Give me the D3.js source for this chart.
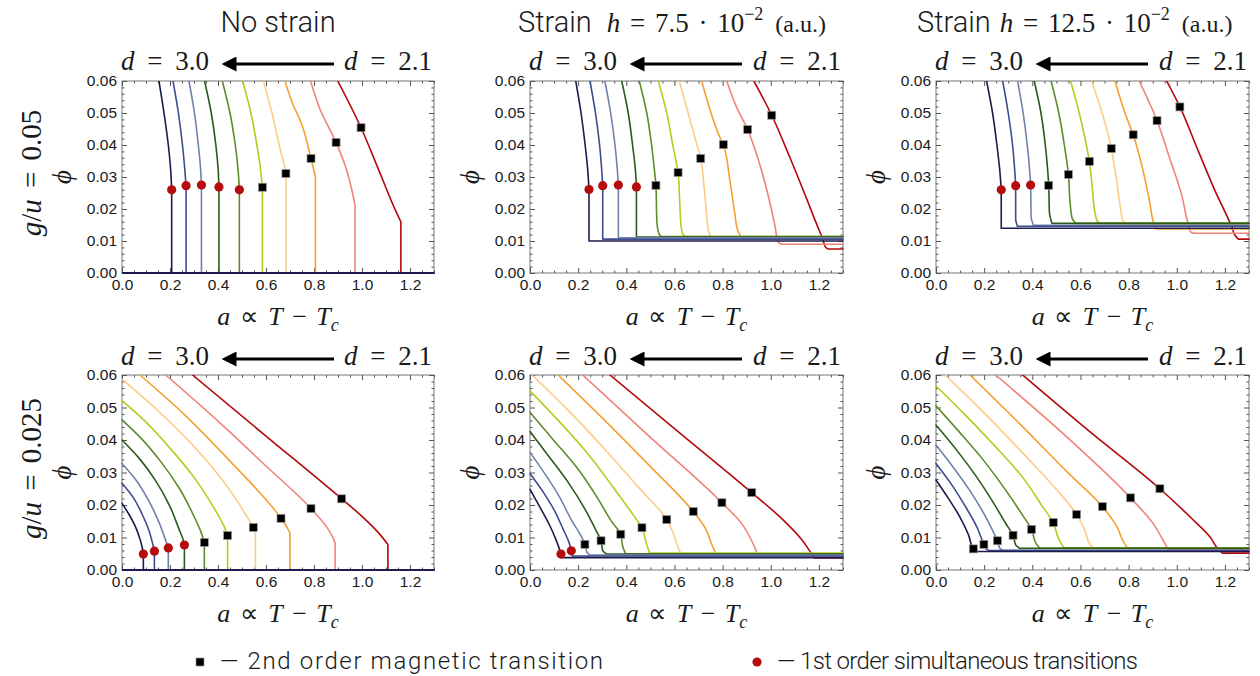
<!DOCTYPE html>
<html>
<head>
<meta charset="utf-8">
<script src="https://cdn.jsdelivr.net/npm/d3@7"></script>
<style>
  body { margin: 0; background: #fff; }
  svg text { fill: #1a1a1a; }
</style>
</head>
<body>
<svg id="chart" width="1260" height="676"></svg>
<script>
"use strict";
// curves are ordered d = 3.0 ... d = 2.1, each point is [a, phi]
const dValues = [3.0, 2.9, 2.8, 2.7, 2.6, 2.5, 2.4, 2.3, 2.2, 2.1];
const curveColors = ["#1c1a4e", "#3d4c8e", "#7181ad", "#2c5a17", "#5e8c2a",
    "#b4cc1e", "#fdcb84", "#f4a131", "#f1837a", "#b3080c"];
const xTickValues = [0, 0.2, 0.4, 0.6, 0.8, 1.0, 1.2];
const yTickValues = [0, 0.01, 0.02, 0.03, 0.04, 0.05, 0.06];
const columnTitles = ["No strain", "Strain", "Strain"];
const strainValues = [null, "7.5", "12.5"];
const couplingValues = ["0.05", "0.025"];
// the phi = 0 branch that runs along the whole axis without strain
const zeroBranch = [[0, 0], [1.3, 0]];

// g/u = 0.05, no strain
const noStrainG05 = [
    [[0.154,0.06],[0.175,0.05],[0.193,0.04],[0.203,0.032],[0.207,0.026],[0.207,0],[1.3,0]],
    [[0.2125,0.06],[0.235,0.05],[0.252,0.04],[0.262,0.032],[0.267,0.0273],[0.267,0],[1.3,0]],
    [[0.279,0.06],[0.302,0.05],[0.318,0.04],[0.327,0.033],[0.331,0.0275],[0.331,0],[1.3,0]],
    [[0.344,0.06],[0.372,0.05],[0.391,0.04],[0.400,0.033],[0.404,0.0269],[0.404,0],[1.3,0]],
    [[0.418,0.06],[0.450,0.05],[0.472,0.04],[0.484,0.032],[0.489,0.026],[0.489,0],[1.3,0]],
    [[0.503,0.06],[0.537,0.05],[0.562,0.04],[0.578,0.032],[0.585,0.0268],[0.585,0],[1.3,0]],
    [[0.589,0.06],[0.625,0.05],[0.655,0.04],[0.675,0.034],[0.683,0.0311],[0.683,0],[1.3,0]],
    [[0.679,0.06],[0.716,0.052],[0.742,0.0478],[0.7875,0.0358],[0.806,0.0301],[0.806,0],[1.3,0]],
    [[0.786,0.06],[0.826,0.051],[0.892,0.0408],[0.930,0.0335],[0.956,0.0265],[0.971,0.0213],[0.971,0],[1.3,0]],
    [[0.899,0.06],[0.996,0.0454],[1.075,0.0312],[1.14,0.0195],[1.162,0.016],[1.162,0],[1.3,0]]
];
const noStrainG05Circles = [[0.207,0.026],[0.267,0.0273],[0.331,0.0275],[0.404,0.0269],[0.489,0.026]];
const noStrainG05Squares = [[0.585,0.0268],[0.683,0.0311],[0.7875,0.0358],[0.892,0.0408],[0.996,0.0454]];

// g/u = 0.05, strain h = 7.5e-2
const strain75G05 = [
    [[0.190,0.06],[0.212,0.05],[0.229,0.04],[0.240,0.032],[0.245,0.0261],[0.245,0.010],[1.3,0.010]],
    [[0.249,0.06],[0.272,0.05],[0.289,0.04],[0.298,0.032],[0.302,0.0273],[0.302,0.0106],[1.3,0.0106]],
    [[0.311,0.06],[0.335,0.05],[0.353,0.04],[0.363,0.032],[0.367,0.0275],[0.367,0.011],[1.3,0.011]],
    [[0.381,0.06],[0.408,0.05],[0.426,0.04],[0.438,0.032],[0.442,0.0269],[0.442,0.0112],[1.3,0.0112]],
    [[0.454,0.06],[0.485,0.05],[0.505,0.04],[0.517,0.032],[0.523,0.0274],[0.527,0.016],[0.534,0.0125],[0.545,0.0114],[1.3,0.0114]],
    [[0.533,0.06],[0.568,0.05],[0.593,0.04],[0.609,0.034],[0.615,0.0314],[0.622,0.022],[0.627,0.015],[0.634,0.0122],[0.645,0.0114],[1.3,0.0114]],
    [[0.620,0.06],[0.657,0.05],[0.686,0.042],[0.709,0.0358],[0.723,0.027],[0.734,0.018],[0.742,0.0128],[0.755,0.0111],[1.3,0.0111]],
    [[0.713,0.06],[0.752,0.05],[0.788,0.0425],[0.803,0.0401],[0.830,0.029],[0.850,0.019],[0.862,0.0135],[0.880,0.0108],[1.3,0.0108]],
    [[0.817,0.06],[0.857,0.052],[0.904,0.0448],[0.950,0.035],[0.990,0.024],[1.018,0.0145],[1.030,0.0098],[1.042,0.009],[1.3,0.009]],
    [[0.930,0.06],[1.004,0.0493],[1.080,0.036],[1.150,0.023],[1.200,0.0135],[1.215,0.0108],[1.228,0.008],[1.238,0.0075],[1.3,0.0075]]
];
const strain75G05Circles = [[0.245,0.0261],[0.302,0.0273],[0.367,0.0275],[0.442,0.0269]];
const strain75G05Squares = [[0.523,0.0274],[0.615,0.0314],[0.709,0.0358],[0.803,0.0401],[0.904,0.0448],[1.004,0.0493]];

// g/u = 0.05, strain h = 12.5e-2
const strain125G05 = [
    [[0.210,0.06],[0.235,0.05],[0.253,0.04],[0.265,0.032],[0.271,0.026],[0.271,0.014],[1.3,0.014]],
    [[0.277,0.06],[0.300,0.05],[0.318,0.04],[0.327,0.032],[0.331,0.0273],[0.331,0.0165],[0.338,0.0146],[1.3,0.0146]],
    [[0.339,0.06],[0.362,0.05],[0.379,0.04],[0.389,0.032],[0.393,0.0275],[0.395,0.0175],[0.405,0.0149],[1.3,0.0149]],
    [[0.408,0.06],[0.436,0.05],[0.454,0.04],[0.464,0.032],[0.468,0.0274],[0.471,0.019],[0.482,0.0155],[1.3,0.0155]],
    [[0.478,0.06],[0.510,0.05],[0.533,0.04],[0.550,0.0308],[0.557,0.022],[0.565,0.0172],[0.580,0.0155],[1.3,0.0155]],
    [[0.559,0.06],[0.595,0.05],[0.622,0.041],[0.637,0.0349],[0.650,0.026],[0.660,0.019],[0.670,0.0162],[0.685,0.0155],[1.3,0.0155]],
    [[0.646,0.06],[0.690,0.05],[0.728,0.0389],[0.750,0.029],[0.765,0.021],[0.775,0.0165],[0.790,0.0152],[1.3,0.0152]],
    [[0.743,0.06],[0.785,0.05],[0.819,0.0432],[0.860,0.032],[0.888,0.022],[0.903,0.016],[0.915,0.0138],[1.3,0.0138]],
    [[0.844,0.06],[0.918,0.0476],[0.970,0.036],[1.020,0.0245],[1.045,0.016],[1.058,0.0128],[1.070,0.0124],[1.3,0.0124]],
    [[0.958,0.06],[1.013,0.0519],[1.090,0.038],[1.160,0.0255],[1.228,0.0145],[1.242,0.0118],[1.255,0.0106],[1.3,0.0106]]
];
const strain125G05Circles = [[0.271,0.026],[0.331,0.0273],[0.393,0.0275]];
const strain125G05Squares = [[0.468,0.0274],[0.550,0.0308],[0.637,0.0349],[0.728,0.0389],[0.819,0.0432],[0.918,0.0476],[1.013,0.0519]];

// g/u = 0.025, no strain
const noStrainG025 = [
    [[0,0.0205],[0.030,0.017],[0.055,0.0135],[0.075,0.0095],[0.084,0.007],[0.089,0.0049],[0.089,0],[1.3,0]],
    [[0,0.0267],[0.045,0.0225],[0.085,0.017],[0.113,0.012],[0.128,0.008],[0.135,0.0058],[0.135,0],[1.3,0]],
    [[0,0.0328],[0.055,0.028],[0.110,0.0215],[0.155,0.0145],[0.180,0.0095],[0.193,0.0068],[0.193,0],[1.3,0]],
    [[0,0.040],[0.07,0.0345],[0.14,0.0275],[0.20,0.0195],[0.238,0.0125],[0.254,0.0095],[0.260,0.0077],[0.260,0],[1.3,0]],
    [[0,0.0462],[0.08,0.0405],[0.16,0.0335],[0.24,0.025],[0.30,0.0165],[0.33,0.0115],[0.343,0.0085],[0.343,0],[1.3,0]],
    [[0,0.0521],[0.10,0.0455],[0.20,0.0375],[0.30,0.0285],[0.38,0.0195],[0.425,0.0135],[0.440,0.0106],[0.440,0],[1.3,0]],
    [[0,0.0587],[0.15,0.049],[0.30,0.038],[0.45,0.0245],[0.52,0.0165],[0.547,0.0131],[0.556,0.0115],[0.556,0],[1.3,0]],
    [[0.075,0.06],[0.25,0.0485],[0.45,0.0335],[0.6625,0.0159],[0.690,0.0128],[0.700,0.0113],[0.700,0],[1.3,0]],
    [[0.182,0.06],[0.40,0.0458],[0.60,0.032],[0.7875,0.0189],[0.850,0.0135],[0.880,0.0098],[0.888,0.0082],[0.888,0],[1.3,0]],
    [[0.294,0.06],[0.60,0.0412],[0.915,0.0219],[1.00,0.0165],[1.08,0.0105],[1.108,0.0078],[1.108,0],[1.3,0]]
];
const noStrainG025Circles = [[0.089,0.0049],[0.135,0.0058],[0.193,0.0068],[0.260,0.0077]];
const noStrainG025Squares = [[0.343,0.0085],[0.440,0.0106],[0.547,0.0131],[0.6625,0.0159],[0.7875,0.0189],[0.915,0.0219]];

// g/u = 0.025, strain h = 7.5e-2
const strain75G025 = [
    [[0,0.0248],[0.04,0.0195],[0.08,0.014],[0.107,0.0095],[0.122,0.0065],[0.1287,0.0049],[0.133,0.0038],[1.3,0.0038]],
    [[0,0.0297],[0.05,0.0245],[0.10,0.0185],[0.138,0.0125],[0.162,0.0085],[0.1716,0.0059],[0.176,0.0043],[1.3,0.0043]],
    [[0,0.0362],[0.06,0.0298],[0.12,0.0228],[0.175,0.015],[0.212,0.0105],[0.228,0.0079],[0.236,0.0055],[0.248,0.0046],[1.3,0.0046]],
    [[0,0.0426],[0.08,0.0348],[0.16,0.0268],[0.23,0.0185],[0.272,0.0125],[0.295,0.009],[0.302,0.006],[0.318,0.0049],[1.3,0.0049]],
    [[0,0.0485],[0.10,0.0398],[0.20,0.031],[0.28,0.0222],[0.34,0.0148],[0.377,0.011],[0.386,0.007],[0.398,0.0049],[1.3,0.0049]],
    [[0,0.0551],[0.12,0.0458],[0.24,0.0358],[0.35,0.025],[0.43,0.0168],[0.465,0.013],[0.482,0.0085],[0.497,0.0052],[1.3,0.0052]],
    [[0.008,0.06],[0.15,0.0498],[0.30,0.038],[0.45,0.0255],[0.568,0.0155],[0.597,0.011],[0.617,0.0065],[0.628,0.0049],[1.3,0.0049]],
    [[0.117,0.06],[0.30,0.0468],[0.50,0.0318],[0.678,0.018],[0.727,0.013],[0.757,0.0075],[0.772,0.005],[1.3,0.005]],
    [[0.219,0.06],[0.50,0.0408],[0.797,0.0207],[0.877,0.0145],[0.927,0.008],[0.944,0.005],[1.3,0.005]],
    [[0.332,0.06],[0.62,0.0423],[0.921,0.0238],[1.05,0.0155],[1.13,0.0092],[1.165,0.0055],[1.182,0.0037],[1.3,0.0037]]
];
const strain75G025Circles = [[0.1287,0.0049],[0.1716,0.0059]];
const strain75G025Squares = [[0.228,0.0079],[0.295,0.009],[0.377,0.011],[0.465,0.013],[0.568,0.0155],[0.678,0.018],[0.797,0.0207],[0.921,0.0238]];

// g/u = 0.025, strain h = 12.5e-2
const strain125G025 = [
    [[0,0.0277],[0.05,0.0222],[0.10,0.0162],[0.135,0.0108],[0.155,0.0065],[0.168,0.0057],[1.3,0.0057]],
    [[0,0.0328],[0.06,0.0268],[0.12,0.0198],[0.17,0.0132],[0.199,0.0079],[0.21,0.0063],[0.222,0.006],[1.3,0.006]],
    [[0,0.0385],[0.07,0.0318],[0.14,0.0245],[0.20,0.0172],[0.235,0.0122],[0.255,0.009],[0.266,0.0066],[0.278,0.0061],[1.3,0.0061]],
    [[0,0.0446],[0.09,0.0365],[0.17,0.0285],[0.24,0.0205],[0.29,0.0143],[0.320,0.0107],[0.332,0.0076],[0.348,0.0067],[1.3,0.0067]],
    [[0,0.0505],[0.10,0.0422],[0.20,0.0335],[0.29,0.0245],[0.36,0.0168],[0.397,0.0125],[0.415,0.0082],[0.432,0.0067],[1.3,0.0067]],
    [[0,0.0566],[0.12,0.0478],[0.24,0.0385],[0.36,0.0285],[0.44,0.0198],[0.487,0.0146],[0.510,0.0095],[0.532,0.0068],[1.3,0.0068]],
    [[0.038,0.06],[0.18,0.0498],[0.35,0.0368],[0.50,0.0248],[0.584,0.0171],[0.620,0.0118],[0.640,0.0078],[0.652,0.0068],[1.3,0.0068]],
    [[0.141,0.06],[0.35,0.0448],[0.55,0.0298],[0.691,0.0195],[0.750,0.0135],[0.780,0.0085],[0.795,0.0068],[1.3,0.0068]],
    [[0.248,0.06],[0.55,0.0405],[0.808,0.0222],[0.900,0.0145],[0.948,0.0085],[0.965,0.0063],[1.3,0.0063]],
    [[0.36,0.06],[0.64,0.0425],[0.930,0.025],[1.06,0.016],[1.14,0.0100],[1.168,0.0068],[1.19,0.0052],[1.3,0.0052]]
];
const strain125G025Circles = [];
const strain125G025Squares = [[0.155,0.0065],[0.199,0.0079],[0.255,0.009],[0.320,0.0107],[0.397,0.0125],[0.487,0.0146],[0.584,0.0171],[0.691,0.0195],[0.808,0.0222],[0.930,0.025]];

const panels = [
    { col: 0, row: 0, curves: noStrainG05, circles: noStrainG05Circles, squares: noStrainG05Squares, zero: zeroBranch },
    { col: 1, row: 0, curves: strain75G05, circles: strain75G05Circles, squares: strain75G05Squares, zero: null },
    { col: 2, row: 0, curves: strain125G05, circles: strain125G05Circles, squares: strain125G05Squares, zero: null },
    { col: 0, row: 1, curves: noStrainG025, circles: noStrainG025Circles, squares: noStrainG025Squares, zero: zeroBranch },
    { col: 1, row: 1, curves: strain75G025, circles: strain75G025Circles, squares: strain75G025Squares, zero: null },
    { col: 2, row: 1, curves: strain125G025, circles: strain125G025Circles, squares: strain125G025Squares, zero: null }
];

// layout
const colLeft = [122, 530, 936],
    colRight = [434, 843, 1249];
const rowTop = [81, 375],
    rowBottom = [273, 570];
const serif = "'Liberation Serif', 'Times New Roman', serif";
const sans = "Roboto, 'Liberation Sans', Arial, sans-serif";
const tickFont = "'Liberation Sans', Arial, sans-serif";

const svg = d3.select("#chart");
const defs = svg.append("defs");
defs.append("marker")
    .attr("id", "arrowHead")
    .attr("viewBox", "0 0 10 10")
    .attr("refX", 1).attr("refY", 5)
    .attr("markerWidth", 5).attr("markerHeight", 5)
    .attr("orient", "auto")
    .append("path")
    .attr("d", "M10,0 L0,5 L10,10 Z")
    .attr("transform", "rotate(180 5 5)")
    .attr("fill", "#000");

function styleAxis(sel) {
    sel.select(".domain").remove();
    sel.selectAll(".tick line").attr("stroke", "#555");
    sel.selectAll("text")
        .attr("font-family", tickFont)
        .attr("font-size", 15.5)
        .attr("fill", "#222");
}

function drawFrame(g, x, y) {
    const xMinor = d3.range(0, 1.31, 0.05).filter(v => Math.abs(v * 5 - Math.round(v * 5)) > 1e-6);
    const yMinor = d3.range(0, 0.0601, 0.002).filter(v => Math.abs(v * 100 - Math.round(v * 100)) > 1e-6);
    g.append("rect")
        .attr("x", x(0)).attr("y", y(0.06))
        .attr("width", x(1.3) - x(0)).attr("height", y(0) - y(0.06))
        .attr("fill", "none").attr("stroke", "#777").attr("stroke-width", 1);

    const bottom = y(0), top = y(0.06), left = x(0), right = x(1.3);
    [[d3.axisBottom, bottom, true], [d3.axisTop, top, false]].forEach(function (a) {
        g.append("g").attr("transform", `translate(0,${a[1]})`)
            .call(a[0](x).tickValues(xTickValues).tickSize(-5).tickPadding(6)
                .tickFormat(a[2] ? d3.format(".1f") : ""))
            .call(styleAxis);
        g.append("g").attr("transform", `translate(0,${a[1]})`)
            .call(a[0](x).tickValues(xMinor).tickSize(-2.5).tickFormat(""))
            .call(styleAxis);
    });
    [[d3.axisLeft, left, true], [d3.axisRight, right, false]].forEach(function (a) {
        g.append("g").attr("transform", `translate(${a[1]},0)`)
            .call(a[0](y).tickValues(yTickValues).tickSize(-5).tickPadding(5)
                .tickFormat(a[2] ? d3.format(".2f") : ""))
            .call(styleAxis);
        g.append("g").attr("transform", `translate(${a[1]},0)`)
            .call(a[0](y).tickValues(yMinor).tickSize(-2.5).tickFormat(""))
            .call(styleAxis);
    });
}

function mathText(parent, parts) {
    parts.forEach(function (p) {
        const t = parent.append("tspan").text(p[0]);
        if (p[1]) t.attr("font-style", "italic");
        if (p[2]) t.attr("font-size", p[2]);
        if (p[3]) t.attr("dy", p[3]);
        if (p[4]) t.attr("dx", p[4]);
    });
}

// vertical and horizontal pieces are straight, everything else a monotone spline
function curvePath(pts, x, y) {
    const smooth = d3.line().x(d => x(d[0])).y(d => y(d[1])).curve(d3.curveMonotoneY);
    const straight = (a, b) => a[0] === b[0] || a[1] === b[1];
    let path = "";
    let run = [pts[0]];
    for (let i = 1; i < pts.length; i++) {
        if (straight(pts[i - 1], pts[i])) {
            if (run.length > 1) path += smooth(run);
            path += `M${x(pts[i - 1][0])},${y(pts[i - 1][1])}L${x(pts[i][0])},${y(pts[i][1])}`;
            run = [pts[i]];
        } else {
            run.push(pts[i]);
        }
    }
    if (run.length > 1) path += smooth(run);
    return path;
}

panels.forEach(function (p, i) {
    const x = d3.scaleLinear().domain([0, 1.3]).range([colLeft[p.col], colRight[p.col]]);
    const y = d3.scaleLinear().domain([0, 0.06]).range([rowBottom[p.row], rowTop[p.row]]);
    const g = svg.append("g").attr("class", "panel");

    defs.append("clipPath").attr("id", "clip" + i)
        .append("rect")
        .attr("x", x(0) - 2).attr("y", y(0.06))
        .attr("width", x(1.3) - x(0) + 3).attr("height", y(0) - y(0.06) + 2);

    drawFrame(g, x, y);

    const lines = g.append("g").attr("clip-path", `url(#clip${i})`);
    const order = p.curves.map((c, k) => k).reverse();
    lines.selectAll("path.curve")
        .data(order)
        .join("path")
        .attr("class", "curve")
        .attr("d", k => curvePath(p.curves[k], x, y))
        .attr("fill", "none")
        .attr("stroke", k => curveColors[k])
        .attr("stroke-width", 1.6)
        .attr("stroke-linejoin", "round")
        .attr("stroke-linecap", "round");

    if (p.zero) {
        lines.append("path")
            .attr("d", d3.line().x(d => x(d[0])).y(d => y(d[1]))(p.zero))
            .attr("stroke", curveColors[0])
            .attr("stroke-width", 2);
    }

    g.selectAll(".sq")
        .data(p.squares)
        .join("rect")
        .attr("class", "sq")
        .attr("x", d => x(d[0]) - 4).attr("y", d => y(d[1]) - 4)
        .attr("width", 8).attr("height", 8)
        .attr("fill", "#000").attr("stroke", "#999").attr("stroke-width", 0.7);

    g.selectAll(".dot")
        .data(p.circles)
        .join("circle")
        .attr("class", "dot")
        .attr("cx", d => x(d[0])).attr("cy", d => y(d[1]))
        .attr("r", 4.6)
        .attr("fill", "#b50d0d");

    // d = 3.0 <- d = 2.1
    const dy = p.row === 0 ? 70 : 365;
    const dLeft = g.append("text").attr("x", x(0) - 1).attr("y", dy)
        .attr("font-family", serif).attr("font-size", 27).attr("word-spacing", 6);
    mathText(dLeft, [["d", true], [" = " + d3.format(".1f")(dValues[0])]]);
    const dRight = g.append("text").attr("x", x(1.3) - 2).attr("y", dy)
        .attr("text-anchor", "end")
        .attr("font-family", serif).attr("font-size", 27).attr("word-spacing", 6);
    mathText(dRight, [["d", true], [" = " + d3.format(".1f")(dValues[dValues.length - 1])]]);
    g.append("line")
        .attr("x1", x(0) + 212).attr("x2", x(0) + 113)
        .attr("y1", dy - 6).attr("y2", dy - 6)
        .attr("stroke", "#000").attr("stroke-width", 3)
        .attr("marker-end", "url(#arrowHead)");

    // phi label
    const phiX = x(0) - 60, phiY = (y(0) + y(0.06)) / 2;
    g.append("text")
        .attr("transform", `translate(${phiX},${phiY}) rotate(-90)`)
        .attr("text-anchor", "middle").attr("dominant-baseline", "central")
        .attr("font-family", serif).attr("font-style", "italic").attr("font-size", 27)
        .text("\u03d5");

    // x label
    const xl = g.append("text")
        .attr("x", (x(0) + x(1.3)) / 2).attr("y", y(0) + 52)
        .attr("text-anchor", "middle")
        .attr("font-family", serif).attr("font-size", 26).attr("word-spacing", 3);
    mathText(xl, [["a", true], [" \u221d "], ["T", true], [" \u2212 "], ["T", true], ["c", true, 18, 6], ["", false, null, -6]]);
});

// column titles
columnTitles.forEach(function (title, c) {
    const t = svg.append("text")
        .attr("y", 32)
        .attr("font-family", sans).attr("font-weight", 300).attr("font-size", 29);
    if (strainValues[c] === null) {
        t.attr("x", (colLeft[c] + colRight[c]) / 2).attr("text-anchor", "middle").text(title);
    } else {
        t.attr("x", c === 1 ? colLeft[c] - 12 : colLeft[c] - 19);
        t.append("tspan").text(title);
        const m = t.append("tspan").attr("font-family", serif).attr("font-size", 27).attr("word-spacing", 3);
        mathText(m, [["h", true, null, null, c === 1 ? 15 : 9], [" = " + strainValues[c] + " \u00b7 10"],
            ["\u22122", false, 18, -12], [" (a.u.)", false, 24, 12, 3]]);
    }
});

// row labels g/u
couplingValues.forEach(function (v, r) {
    const cy = (rowTop[r] + rowBottom[r]) / 2 - 4;
    const t = svg.append("text")
        .attr("transform", `translate(31,${cy}) rotate(-90)`)
        .attr("text-anchor", "middle").attr("dominant-baseline", "central")
        .attr("font-family", serif).attr("font-size", 29).attr("word-spacing", 4);
    mathText(t, [["g", true], ["/"], ["u", true], [" = " + v]]);
});

// legend
const legend = svg.append("g");
legend.append("rect").attr("x", 196).attr("y", 658).attr("width", 8).attr("height", 8)
    .attr("fill", "#000").attr("stroke", "#999").attr("stroke-width", 0.7);
legend.append("text").attr("x", 220).attr("y", 669)
    .attr("font-family", sans).attr("font-weight", 300).attr("font-size", 24)
    .attr("textLength", 383).attr("lengthAdjust", "spacing")
    .text("\u2014  2nd order magnetic transition");
legend.append("circle").attr("cx", 757).attr("cy", 662).attr("r", 4.6).attr("fill", "#b50d0d");
legend.append("text").attr("x", 777).attr("y", 669)
    .attr("font-family", sans).attr("font-weight", 300).attr("font-size", 24)
    .attr("textLength", 361).attr("lengthAdjust", "spacing")
    .text("\u2014  1st order simultaneous transitions");
</script>
</body>
</html>
